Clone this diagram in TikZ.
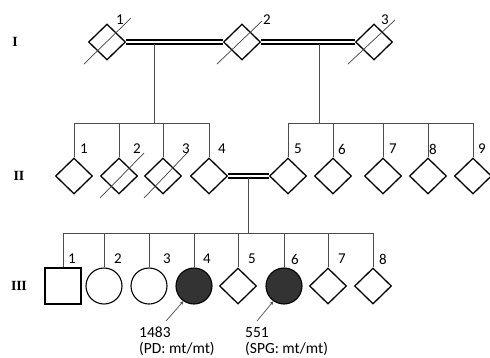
\documentclass[tikz,border=0pt]{standalone}
\usepackage{fontspec}
\setmainfont{Carlito}
\newfontfamily\romfont{Liberation Serif}
\usetikzlibrary{shapes.geometric,arrows.meta}

\begin{document}
\begin{tikzpicture}[
    x=1pt, y=-1pt,
    >={Stealth[length=4pt,width=3.5pt]},
    % Pedigree symbols
    unk/.style={diamond, draw, line width=1.3pt, inner sep=0pt, minimum width=37pt, minimum height=36pt},
    male/.style={rectangle, draw, line width=1.1pt, inner sep=0pt, minimum size=36pt},
    female/.style={circle, draw, line width=1.1pt, inner sep=0pt, minimum size=36pt},
    affected/.style={female, fill=black!80},
    dead/.style={line width=0.7pt, color=black!75},
    conn/.style={line width=0.7pt, color=black!70},
    mate/.style={double, double distance=1.8pt, line width=1.9pt},
    num/.style={font=\fontsize{15}{17}\selectfont, inner sep=0pt},
    gen/.style={font=\romfont\bfseries\fontsize{14}{16}\selectfont, inner sep=0pt},
    txt/.style={font=\fontsize{15.5}{16}\selectfont, align=left, inner sep=0pt}
]
    \useasboundingbox (0,0) rectangle (490,357);

    % Generation labels
    \node[gen] (gI)   at (15,42)  {I};
    \node[gen] (gII)  at (19,176) {I\kern-0.3ptI};
    \node[gen] (gIII) at (19,286) {I\kern-0.3ptI\kern-0.3ptI};

    % Generation I
    \node[unk] (I1) at (107,42) {};
    \node[unk] (I2) at (242,42) {};
    \node[unk] (I3) at (374,42) {};
    \draw[mate] (I1.east) -- (I2.west);
    \draw[mate] (I2.east) -- (I3.west);
    \foreach \n/\x in {1/120,2/267,3/385}
        \node[num] at (\x,20) {\n};

    % Generation II
    \foreach \n/\x in {1/74,2/119,3/163,4/209,5/288,6/333,7/383,8/428,9/473}
        \node[unk] (II\n) at (\x,176) {};
    \draw[mate] (II4.east) -- (II5.west);
    \foreach \n/\x in {1/84,2/137,3/186,4/222,5/298,6/342,7/393,8/433,9/482}
        \node[num] at (\x,149) {\n};

    % Generation III
    \node[male]     (III1) at (63,286)  {};
    \node[female]   (III2) at (104,286) {};
    \node[female]   (III3) at (149,286) {};
    \node[affected] (III4) at (194,286) {};
    \node[unk]      (III5) at (238,286) {};
    \node[affected] (III6) at (284,286) {};
    \node[unk]      (III7) at (328,286) {};
    \node[unk]      (III8) at (373,286) {};
    \foreach \n/\x in {1/72,2/118,3/167,4/207,5/252,6/295,7/342,8/383}
        \node[num] at (\x,259) {\n};

    % Deceased
    \foreach \n/\a/\b/\c/\d in {I1/-23/22/24/-24, I2/-25/22/20/-21, I3/-26/22/21/-22,
                                II2/-19/22/25/-23, II3/-19/22/25/-24}
        \draw[dead] ([shift={(\a,\b)}]\n.center) -- ([shift={(\c,\d)}]\n.center);

    % Lines of descent
    \coordinate (d1) at (154,44);
    \coordinate (s1) at (154,123);
    \coordinate (d2) at (319,44);
    \coordinate (s2) at (319,123);
    \coordinate (d3) at (248,178);
    \coordinate (s3) at (248,233);
    \draw[conn] (d1) -- (s1);
    \draw[conn] (d2) -- (s2);
    \draw[conn] (d3) -- (s3);
    \draw[conn] (II1.north |- s1) -- (II4.north |- s1);
    \draw[conn] (II5.north |- s2) -- (II9.north |- s2);
    \draw[conn] (III1.north |- s3) -- (III8.north |- s3);
    \foreach \n in {1,...,4}
        \draw[conn] (II\n.north |- s1) -- (II\n.north);
    \foreach \n in {5,...,9}
        \draw[conn] (II\n.north |- s2) -- (II\n.north);
    \foreach \n in {1,...,8}
        \draw[conn] (III\n.north |- s3) -- (III\n.north);

    % Probands
    \node[txt, anchor=north west] (t4) at (139,327) {1483\\(PD: mt/mt)};
    \node[txt, anchor=north west] (t6) at (245,327) {551\\(SPG: mt/mt)};
    \coordinate (a4) at (166,321);
    \coordinate (a6) at (257,321);
    \draw[conn, ->] (a4) -- (III4.235);
    \draw[conn, ->] (a6) -- (III6.235);

\end{tikzpicture}
\end{document}
